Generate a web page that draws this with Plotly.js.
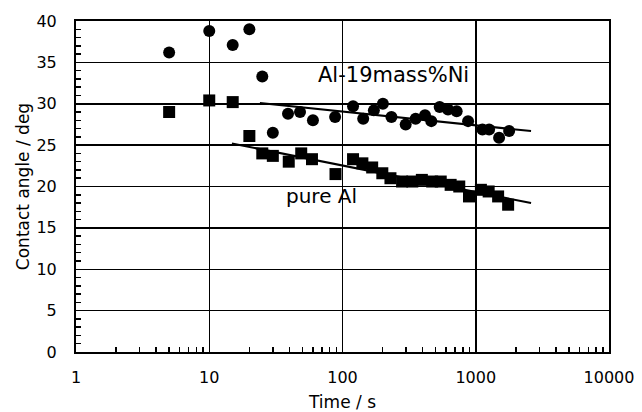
<!DOCTYPE html>
<html>
<head>
<meta charset="utf-8">
<script src="https://cdn.plot.ly/plotly-3.0.1.min.js"></script>
<style>html,body{margin:0;padding:0;background:#fff}#chart{width:642px;height:412px}</style>
</head>
<body>
<div id="chart"></div>
<script>
// Al-19mass%Ni (circles)
var niTime = [5, 10, 15, 20, 25, 30, 39, 48, 60, 88, 120, 143, 172, 201, 233, 298, 354, 416, 464, 536, 619, 719, 876, 1123, 1260, 1497, 1780];
var niAngle = [36.2, 38.8, 37.1, 39.0, 33.3, 26.5, 28.8, 29.0, 28.0, 28.4, 29.7, 28.2, 29.2, 30.0, 28.4, 27.5, 28.2, 28.6, 27.9, 29.6, 29.3, 29.1, 27.9, 26.9, 26.9, 25.9, 26.7];
// pure Al (squares)
var alTime = [5, 10, 15, 20, 25, 30, 39.5, 49, 59, 88.6, 120, 141, 167, 199, 229, 280, 334, 394, 471, 546, 648, 752, 890, 1093, 1250, 1472, 1750];
var alAngle = [29.0, 30.4, 30.2, 26.1, 24.0, 23.7, 23.0, 24.0, 23.3, 21.5, 23.3, 22.8, 22.3, 21.6, 21.0, 20.6, 20.6, 20.8, 20.6, 20.6, 20.2, 20.0, 18.8, 19.6, 19.4, 18.8, 17.8];
// fitted trend lines (end points)
var niFitTime = [24, 2600];
var niFitAngle = [30.1, 26.7];
var alFitTime = [14.8, 2600];
var alFitAngle = [25.2, 18.0];
// labels
var niLabel = "Al-19mass%Ni";
var alLabel = "pure Al";
var xTitle = "Time / s";
var yTitle = "Contact angle / deg";

var font = "DejaVu Sans, Liberation Sans, Arial, sans-serif";

var traces = [
  {x: niFitTime, y: niFitAngle, mode: "lines", line: {color: "#000", width: 2}, hoverinfo: "skip"},
  {x: alFitTime, y: alFitAngle, mode: "lines", line: {color: "#000", width: 2}, hoverinfo: "skip"},
  {x: niTime, y: niAngle, mode: "markers", marker: {symbol: "circle", size: 12, color: "#000"}, name: niLabel},
  {x: alTime, y: alAngle, mode: "markers", marker: {symbol: "square", size: 12, color: "#000"}, name: alLabel}
];

var layout = {
  width: 642, height: 412,
  margin: {l: 76, r: 33, t: 21, b: 60},
  paper_bgcolor: "#fff", plot_bgcolor: "#fff",
  showlegend: false,
  font: {family: font, color: "#000", size: 15},
  xaxis: {
    type: "log", range: [0, 4], dtick: 1, tickformat: "d",
    showgrid: true, gridcolor: "#000", gridwidth: 1.5,
    showline: true, linecolor: "#000", linewidth: 2, mirror: true,
    ticks: "inside", ticklen: 7, tickwidth: 1.5, tickcolor: "#000",
    minor: {dtick: "D1", ticks: "inside", ticklen: 5, tickwidth: 1.5, tickcolor: "#000", showgrid: false},
    tickfont: {size: 16, family: font}, ticklabelstandoff: 10,
    zeroline: false,
    title: {text: xTitle, font: {size: 17, family: font}, standoff: 10}
  },
  yaxis: {
    range: [0, 40], dtick: 5,
    showgrid: true, gridcolor: "#000", gridwidth: 1.5,
    showline: true, linecolor: "#000", linewidth: 2, mirror: true,
    ticks: "inside", ticklen: 7, tickwidth: 1.5, tickcolor: "#000",
    minor: {dtick: 1, ticks: "inside", ticklen: 5, tickwidth: 1.5, tickcolor: "#000", showgrid: false},
    tickfont: {size: 16, family: font}, ticklabelstandoff: 14,
    zeroline: false,
    title: {text: yTitle, font: {size: 17, family: font}, standoff: 2}
  },
  shapes: [
    {type: "rect", xref: "paper", yref: "paper", x0: 0.435, x1: 0.745, y0: 0.792, y1: 0.891,
     fillcolor: "#fff", line: {width: 0}, layer: "between"},
    {type: "rect", xref: "paper", yref: "paper", x0: 0.373, x1: 0.548, y0: 0.420, y1: 0.541,
     fillcolor: "#fff", line: {width: 0}, layer: "between"}
  ],
  annotations: [
    {x: 2.38, y: 33.5, xref: "x", yref: "y", text: niLabel, showarrow: false,
     font: {size: 21, family: font, color: "#000"}},
    {x: 1.846, y: 18.8, xref: "x", yref: "y", text: alLabel, showarrow: false,
     font: {size: 20, family: font, color: "#000"}}
  ]
};

Plotly.newPlot("chart", traces, layout, {displayModeBar: false, staticPlot: true});
</script>
</body>
</html>
